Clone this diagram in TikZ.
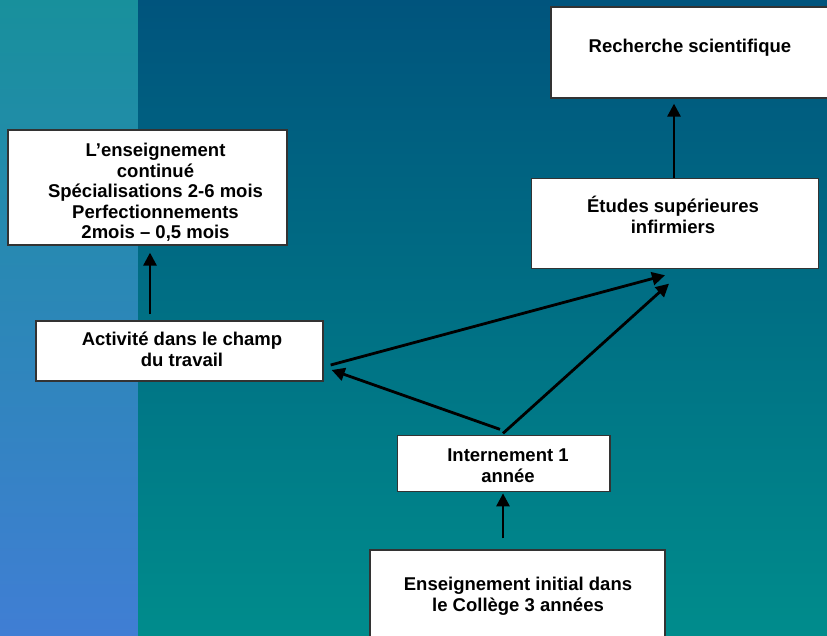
\documentclass[tikz,border=0pt]{standalone}
\usepackage{fontspec}
\setmainfont{Liberation Sans}
\usetikzlibrary{arrows.meta}
\definecolor{lefttop}{RGB}{24,144,156}
\definecolor{leftmid}{RGB}{46,132,192}
\definecolor{leftbot}{RGB}{64,126,212}
\definecolor{righttop}{RGB}{0,84,125}
\definecolor{rightmid}{RGB}{0,124,136}
\definecolor{rightbot}{RGB}{0,140,140}
\begin{document}
\begin{tikzpicture}[x=1pt,y=-1pt,
  box/.style={draw=black!80, line width=1.3pt, fill=white, inner sep=0pt},
  txt/.style={align=center, inner sep=0pt, font=\fontsize{18.5}{20.5}\selectfont\bfseries, text=black},
  arr/.style={line width=2.8pt, -{Triangle[length=13pt,width=13pt]}}]
\useasboundingbox (0,0) rectangle (827,636);
\clip (0,0) rectangle (827,636);
\shade[top color=lefttop, middle color=leftmid, bottom color=leftbot] (0,0) rectangle (138,636);
\shade[top color=righttop, middle color=rightmid, bottom color=rightbot] (138,0) rectangle (827,636);

\node[box, minimum width=279pt, minimum height=115pt] (cont) at (147.5,187.5) {};
\node[txt] (contT) at (155.5,192.3) {L’enseignement\\continué\\Spécialisations 2-6 mois\\Perfectionnements\\2mois – 0,5 mois};
\node[box, minimum width=287pt, minimum height=60pt] (act) at (179.5,351) {};
\node[txt] (actT) at (182,349.3) {Activité dans le champ\\du travail};
\node[box, minimum width=289pt, minimum height=91pt] (rech) at (695.5,52.5) {};
\node[txt] (rechT) at (690,47.3) {Recherche scientifique};
\node[box, minimum width=286.6pt, minimum height=90pt] (etud) at (675,223.3) {};
\node[txt] (etudT) at (673,215) {Études supérieures\\infirmiers};
\node[box, minimum width=212.7pt, minimum height=56pt] (intern) at (503.7,463.7) {};
\node[txt] (internT) at (508,465.5) {Internement 1\\année};
\node[box, minimum width=295pt, minimum height=95pt] (init) at (517.5,597.5) {};
\node[txt] (initT) at (518,596.5) {Enseignement initial dans\\le Collège 3 années};

\draw[arr] ([xshift=-29.5pt,yshift=6pt]act.north) -- ([xshift=2.5pt,yshift=-7pt]cont.south);
\draw[arr] ([xshift=-1pt]etud.north) -- ([xshift=-21.5pt,yshift=-5pt]rech.south);
\draw[arr] ([xshift=-14.5pt,yshift=11pt]init.north) -- ([xshift=-0.7pt,yshift=-1pt]intern.south);
\draw[arr] ([xshift=-3.7pt,yshift=5.7pt]intern.north) -- ([xshift=8pt,yshift=-19pt]act.east);
\draw[arr] ([xshift=-0.7pt,yshift=1.7pt]intern.north) -- ([xshift=-6pt,yshift=-14.7pt]etud.south);
\draw[arr] ([xshift=7pt,yshift=-14pt]act.east) -- ([xshift=-10pt,yshift=-6.3pt]etud.south);
\end{tikzpicture}
\end{document}
